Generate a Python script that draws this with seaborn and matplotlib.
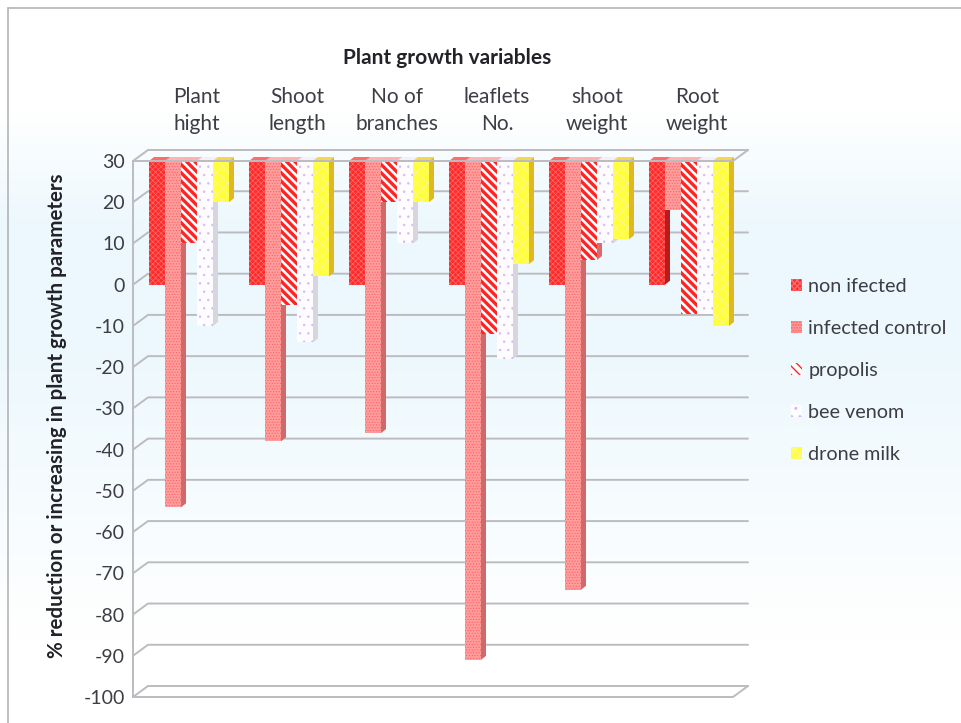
import numpy as np
import pandas as pd
import matplotlib
matplotlib.use("Agg")
import matplotlib.pyplot as plt
import seaborn as sns
from matplotlib.patches import Patch, Polygon
from matplotlib.lines import Line2D
from matplotlib.transforms import ScaledTranslation

# ---- data -------------------------------------------------------------
categories = ["Plant\nhight", "Shoot\nlength", "No of\nbranches",
              "leaflets\nNo.", "shoot\nweight", "Root\nweight"]
series = ["non ifected", "infected control", "propolis", "bee venom", "drone milk"]
non_infected = [0, 0, 0, 0, 0, 0]
infected_control = [-54, -38, -36, -91, -74, 18]
propolis = [10, -5, 20, -12, 6, -7]
bee_venom = [-10, -14, 10, -18, 10, -7]
drone_milk = [20, 2, 20, 5, 11, -10]
y_ticks = list(range(30, -101, -10))

AXIS_CROSS = 30  # category axis crosses at the top value; bars hang from it

values = [non_infected, infected_control, propolis, bee_venom, drone_milk]
df = pd.DataFrame({
    "variable": np.repeat([categories], len(series), axis=0).ravel(),
    "treatment": np.repeat(series, len(categories)),
    "value": np.concatenate(values).astype(float),
})
df["drop"] = df["value"] - AXIS_CROSS

# ---- styling -----------------------------------------------------------
sns.set_style("white")
plt.rcParams["font.family"] = ["Lato", "DejaVu Sans"]
TXT = "#3d3d45"
GRID = "#bcbcc0"

styles = {
    "non ifected":      dict(face="#ff2a2a", hatch="xxxxxx", hc="#ff6a6a", hlw=0.5, side="#b51c1c", top="#ff6a6a"),
    "infected control": dict(face="#ff9d9d", hatch="......", hc="#ff6060", hlw=0.5, side="#cf6a6a", top="#ffb3b3"),
    "propolis":         dict(face="#ffffff", hatch="\\\\\\\\", hc="#ff2424", hlw=2.4, side="#d86a6a", top="#ffb0b0"),
    "bee venom":        dict(face="#fffcff", hatch="..", hc="#d2b8f5", hlw=0.5, side="#d6d6dc", top="#f4f0fa"),
    "drone milk":       dict(face="#ffff3a", hatch="xxx", hc="#fff59a", hlw=0.6, side="#e0b820", top="#f5d84a"),
}

W, H, DPI = 9.62, 7.23, 100
fig = plt.figure(figsize=(W, H), dpi=DPI)
fig.patch.set_facecolor("white")

# soft vertical background wash
bg = fig.add_axes([0, 0, 1, 1], zorder=-5)
rows = np.arange(723)
t = np.interp(rows, [0, 110, 230, 340, 640, 723], [0, 0, 1, 1, 0, 0])
top_c = np.array([1.0, 1.0, 1.0])
blue_c = np.array([236, 248, 253]) / 255
grad = top_c[None, :] * (1 - t[:, None]) + blue_c[None, :] * t[:, None]
bg.imshow(grad[:, None, :], aspect="auto", extent=[0, 1, 0, 1], origin="upper")
bg.set_axis_off()
# chart border
bg.add_line(Line2D([8 / 962, 8 / 962], [0, 1 - 8 / 723], color="#b4b4b4", lw=1.2))
bg.add_line(Line2D([8 / 962, 1], [1 - 8 / 723, 1 - 8 / 723], color="#b4b4b4", lw=1.2))

L, R, T, B = 133, 733, 161, 697
ax = fig.add_axes([L / 962, 1 - B / 723, (R - L) / 962, (B - T) / 723])
ax.set_facecolor("none")

sns.barplot(data=df, x="variable", y="drop", hue="treatment", order=categories,
            hue_order=series, width=0.8, bottom=AXIS_CROSS, ax=ax, legend=False,
            errorbar=None, zorder=2)

XMIN, XMAX = -0.56, 5.44
ax.set_xlim(XMIN, XMAX)
ax.set_ylim(-100, 30)

px_x = (XMAX - XMIN) / (R - L)
px_y = 130 / (B - T)

# bar faces, depth sides and tops
bdx, bdy = 5 * px_x, 4 * px_y
for name, cont in zip(series, ax.containers):
    st = styles[name]
    for p in cont.patches:
        p.set_facecolor(st["face"])
        p.set_edgecolor(st["hc"])
        p.set_hatch(st["hatch"])
        p.set_linewidth(0)
        if hasattr(p, "set_hatch_linewidth"):
            p.set_hatch_linewidth(st["hlw"])
        x0, w = p.get_x(), p.get_width()
        y0, h = p.get_y(), p.get_height()
        x1 = x0 + w
        ylo = min(y0, y0 + h)
        yhi = max(y0, y0 + h)
        ax.add_patch(Polygon([(x1, yhi), (x1 + bdx, yhi + bdy), (x1 + bdx, ylo + bdy), (x1, ylo)],
                             closed=True, facecolor=st["side"], edgecolor="none", zorder=1.5,
                             clip_on=False))
        ax.add_patch(Polygon([(x0, yhi), (x1, yhi), (x1 + bdx, yhi + bdy), (x0 + bdx, yhi + bdy)],
                             closed=True, facecolor=st["top"], edgecolor="none", zorder=1.5,
                             clip_on=False))

# back wall grid with perspective corners
wdx, wdy = 15 * px_x, 11 * px_y
for v in y_ticks:
    ax.add_line(Line2D([XMIN, XMIN + wdx, XMAX + wdx], [v, v + wdy, v + wdy],
                       color=GRID, lw=1.4, zorder=0.5, clip_on=False))
for v in (30, -100):
    ax.add_line(Line2D([XMIN, XMAX, XMAX + wdx], [v, v, v + wdy],
                       color=GRID, lw=1.4, zorder=0.5 if v == -100 else 3, clip_on=False))

for s in ["top", "right", "bottom"]:
    ax.spines[s].set_visible(False)
ax.spines["left"].set_color(GRID)
ax.spines["left"].set_linewidth(1.4)

ax.set_yticks(y_ticks)
ax.set_yticklabels([str(v) for v in y_ticks])
ax.tick_params(axis="y", direction="out", length=5, width=1.2, color=GRID,
               labelsize=14, labelcolor=TXT, pad=1)

ax.xaxis.tick_top()
ax.set_xticks(range(len(categories)))
ax.set_xticklabels(categories, fontsize=15, color=TXT, linespacing=1.42)
ax.tick_params(axis="x", length=0, pad=19.5)
for lbl in ax.get_xticklabels():
    lbl.set_transform(lbl.get_transform() + ScaledTranslation(0.08, 0, fig.dpi_scale_trans))
ax.set_xlabel("")
ax.set_ylabel("")

fig.text(447 / 962, 1 - 58 / 723, "Plant growth variables", ha="center", va="center",
         fontsize=15, fontweight="bold", color="#222228")
fig.text(57 / 962, 1 - 416 / 723, "% reduction or increasing in plant growth parameters",
         ha="center", va="center", rotation=90, fontsize=14.8, fontweight="bold", color="#222228")

handles = []
for name in series:
    st = styles[name]
    hp = Patch(facecolor=st["face"], edgecolor=st["hc"], hatch=st["hatch"], linewidth=0, label=name)
    handles.append(hp)
leg = fig.legend(handles=handles, loc="upper left", bbox_to_anchor=(773 / 962, 1 - 260 / 723),
                 frameon=False, fontsize=14.2, handlelength=0.55, handleheight=0.55,
                 handletextpad=0.35, labelspacing=1.27, labelcolor=TXT)

fig.savefig("out.png", dpi=DPI)
